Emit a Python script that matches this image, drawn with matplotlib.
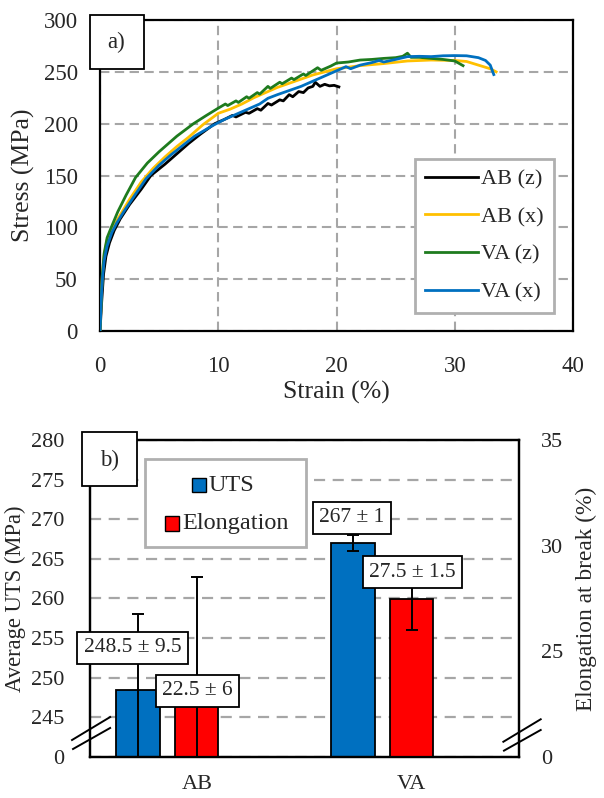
import matplotlib
matplotlib.use("Agg")
import matplotlib.pyplot as plt
from matplotlib.patches import Rectangle
from matplotlib.lines import Line2D
import numpy as np

plt.rcParams['font.family'] = ['Liberation Serif', 'DejaVu Serif']

TEXT = '#262626'
GRID = '#a6a6a6'

# ---------------- (a) stress-strain curves ----------------
ab_z_strain = [0, 0.15, 0.3, 0.5, 0.8, 1.2, 1.7, 2.5, 3.5, 4.3, 5.5, 6.5, 7.5, 8.5, 9.7,
               10.5, 11.2, 11.5, 12.3, 12.6, 13.3, 13.6, 14.2, 14.5, 15.2, 15.5, 16.0,
               16.3, 16.8, 17.2, 17.6, 18.0, 18.2, 18.6, 19.0, 19.4, 19.8, 20.2]
ab_z_stress = [0, 30, 55, 72, 85, 97, 108, 122, 137, 150, 161, 171, 181, 190, 200,
               204, 208, 206.5, 211, 210, 214.5, 213, 219.5, 218, 223, 222, 228,
               226, 231, 230, 234.5, 236, 240, 236, 238, 236.5, 237, 235.5]

ab_x_strain = [0, 0.1, 0.2, 0.35, 0.6, 1.0, 1.5, 2.5, 3.5, 4.5, 5.5, 6.5, 7.5, 8.7, 10,
               11, 12, 13, 14.2, 15, 16, 17, 18, 19, 20, 22, 24, 26, 28, 30, 31, 32, 33, 33.5]
ab_x_stress = [0, 32, 55, 73, 88, 98, 108, 127, 144, 157, 168, 178, 187, 199, 210,
               214, 219, 225, 231, 235, 239, 243, 247, 250, 253, 256, 258, 260.5, 261.4,
               261, 260, 256.5, 253, 250]

va_z_strain = [0, 0.1, 0.2, 0.35, 0.6, 0.95, 1.5, 2.2, 3.0, 4.0, 5.0, 6.5, 7.9, 9.0, 10.0,
               10.6, 10.8, 11.5, 11.7, 12.4, 12.6, 13.3, 13.5, 14.2, 14.4, 15.2, 15.4,
               16.2, 16.4, 17.2, 17.4, 18.4, 18.7, 19.5, 20.0, 21.0, 22.0, 23.0, 24.0,
               25.0, 25.6, 26.0, 26.3, 27.0, 28.0, 29.0, 30.0, 30.7]
va_z_stress = [0, 30, 55, 75, 90, 100, 115, 131, 148, 162, 173, 188, 200, 208, 215,
               219, 217.5, 222, 220.5, 226, 224.5, 230, 228.5, 236, 234, 240, 238.5,
               244, 242.5, 248, 246.5, 254, 251.5, 255.5, 258.5, 259.5, 261.4, 262, 263,
               263.7, 265, 268, 264, 264, 263, 262, 260.5, 256]

va_x_strain = [0, 0.1, 0.2, 0.35, 0.6, 1.0, 1.4, 2.0, 3.0, 3.9, 5.0, 6.0, 7.0, 8.0, 9.5,
               10.5, 11.5, 12.5, 13.5, 14.2, 15.0, 16.0, 17.0, 18.0, 19.0, 20.0, 20.8,
               21.2, 22.0, 23.0, 23.6, 24.0, 25.0, 26.0, 27.0, 28.0, 29.0, 30.0, 31.0,
               32.0, 32.6, 33.0, 33.3]
va_x_stress = [0, 30, 50, 68, 82, 95, 104, 115, 132, 147, 160, 170, 179, 188, 198,
               204, 209, 214, 219, 224.5, 228, 232, 236, 241, 246, 251, 255,
               253, 256.5, 259, 261, 259.5, 262, 264.7, 265, 264.7, 265.5, 265.7, 265.5,
               263.7, 261, 256.5, 247.4]

series_labels = ['AB (z)', 'AB (x)', 'VA (z)', 'VA (x)']
series_colors = ['#000000', '#ffc000', '#1e7b1e', '#0070c0']

strain_ticks = [0, 10, 20, 30, 40]
stress_ticks = [0, 50, 100, 150, 200, 250, 300]

# ---------------- (b) average properties ----------------
groups = ['AB', 'VA']
uts = [248.5, 267]
uts_err = [9.5, 1]
elong = [22.5, 27.5]
elong_err = [6, 1.5]

uts_ticks = [240, 245, 250, 255, 260, 265, 270, 275, 280]
uts_tick_labels = ['0', '245', '250', '255', '260', '265', '270', '275', '280']
elong_ticks = [20, 25, 30, 35]
elong_tick_labels = ['0', '25', '30', '35']

UTS_COLOR = '#0070c0'
ELONG_COLOR = '#ff0000'

fig = plt.figure(figsize=(6.04, 7.98), dpi=100)

# ---- panel a ----
ax = fig.add_axes([0.1656, 0.5852, 0.7831, 0.3897])
curves = [(ab_z_strain, ab_z_stress), (ab_x_strain, ab_x_stress),
          (va_z_strain, va_z_stress), (va_x_strain, va_x_stress)]
for (sx, sy), lab, col in zip(curves, series_labels, series_colors):
    ax.plot(sx, sy, color=col, lw=2.0, label=lab, solid_joinstyle='round', zorder=3)

ax.set_xlim(0, 40)
ax.set_ylim(0, 300)
ax.set_xticks(strain_ticks)
ax.set_yticks(stress_ticks)
ax.set_axisbelow(True)
ax.grid(True, color=GRID, lw=1.5, linestyle=(0, (4.5, 2.6)))
ax.tick_params(axis='both', length=0, labelsize=16.5, labelcolor=TEXT)
ax.tick_params(axis='x', pad=18)
ax.tick_params(axis='y', pad=16)
for sp in ax.spines.values():
    sp.set_linewidth(1.6)
    sp.set_color('black')
ax.set_xlabel('Strain (%)', fontsize=18.5, color=TEXT, labelpad=3)
ax.set_ylabel('Stress (MPa)', fontsize=18.5, color=TEXT, labelpad=6)

leg = ax.legend(loc='upper left', bbox_to_anchor=(0.665, 0.553), borderaxespad=0,
                fontsize=16, frameon=True, fancybox=False, framealpha=1,
                edgecolor='#b0b0b0', borderpad=0.45, handlelength=2.4,
                handletextpad=0.15, labelspacing=0.77)
leg.get_frame().set_linewidth(2.0)
for t in leg.get_texts():
    t.set_color(TEXT)

ax.add_patch(Rectangle((-0.022, 0.842), 0.114, 0.174, transform=ax.transAxes,
                       fc='white', ec='black', lw=1.3, clip_on=False, zorder=5))
ax.text(0.035, 0.929, 'a)', transform=ax.transAxes, ha='center', va='center',
        fontsize=16.5, color=TEXT, zorder=6)

# ---- panel b ----
bx = fig.add_axes([0.1482, 0.0514, 0.7111, 0.3972])
bx2 = bx.twinx()
x = np.arange(len(groups))

bx.bar(x - 0.275, uts, 0.205, color=UTS_COLOR, edgecolor='black', lw=1.3, zorder=2)
bx.errorbar(x - 0.275, uts, yerr=uts_err, fmt='none', ecolor='black',
            elinewidth=1.4, capsize=4.5, capthick=1.4, zorder=3)
bx2.bar(x, elong, 0.2, color=ELONG_COLOR, edgecolor='black', lw=1.3, zorder=2)
bx2.errorbar(x, elong, yerr=elong_err, fmt='none', ecolor='black',
             elinewidth=1.4, capsize=4.5, capthick=1.4, zorder=3)

bx.set_xlim(-0.5, 1.5)
bx.set_ylim(uts_ticks[0], uts_ticks[-1])
bx2.set_ylim(elong_ticks[0], elong_ticks[-1])
bx.set_xticks(x, labels=groups)
bx.set_yticks(uts_ticks, labels=uts_tick_labels)
bx2.set_yticks(elong_ticks, labels=elong_tick_labels)
bx.set_axisbelow(True)
bx.yaxis.grid(True, color=GRID, lw=1.6, linestyle=(0, (5, 3.4)))
bx.tick_params(axis='both', length=0, labelsize=16, labelcolor=TEXT)
bx.tick_params(axis='x', pad=13)
bx.tick_params(axis='y', pad=18)
bx2.tick_params(axis='y', length=0, labelsize=16, labelcolor=TEXT, pad=16)
for a in (bx, bx2):
    for sp in a.spines.values():
        sp.set_linewidth(1.6)
        sp.set_color('black')
bx.set_ylabel('Average UTS (MPa)', fontsize=16.3, color=TEXT, labelpad=4)
bx2.set_ylabel('Elongation at break (%)', fontsize=16.8, color=TEXT, labelpad=9)

# value boxes
box_style = dict(boxstyle='square,pad=0.3', fc='white', ec='black', lw=1.3)
uts_label_pos = [(-0.30, 253.8), (0.722, 270.2)]
elong_label_pos = [(0.003, 248.35), (1.005, 263.3)]
for (lx, ly), v, e in zip(uts_label_pos, uts, uts_err):
    bx2.text(lx, ly, f'{v:g} ± {e:g}', transform=bx.transData, ha='center',
             va='center', fontsize=15.5, color=TEXT, bbox=box_style, zorder=6)
for (lx, ly), v, e in zip(elong_label_pos, elong, elong_err):
    bx2.text(lx, ly, f'{v:g} ± {e:g}', transform=bx.transData, ha='center',
             va='center', fontsize=15.5, color=TEXT, bbox=box_style, zorder=6)

# legend
bx2.add_patch(Rectangle((0.129, 0.662), 0.375, 0.278, transform=bx2.transAxes,
                        fc='white', ec='#b0b0b0', lw=2.0, zorder=4))
sw, sh = 0.0326, 0.047
bx2.add_patch(Rectangle((0.255 - sw / 2, 0.858 - sh / 2), sw, sh, transform=bx2.transAxes,
                        fc=UTS_COLOR, ec='black', lw=1.0, zorder=5))
bx2.text(0.276, 0.858, 'UTS', transform=bx2.transAxes, ha='left', va='center',
         fontsize=17.5, color=TEXT, zorder=5)
bx2.add_patch(Rectangle((0.191 - sw / 2, 0.738 - sh / 2), sw, sh, transform=bx2.transAxes,
                        fc=ELONG_COLOR, ec='black', lw=1.0, zorder=5))
bx2.text(0.215, 0.738, 'Elongation', transform=bx2.transAxes, ha='left', va='center',
         fontsize=17.5, color=TEXT, zorder=5)

# panel tag
bx2.add_patch(Rectangle((-0.0175, 0.855), 0.1285, 0.171, transform=bx2.transAxes,
                        fc='white', ec='black', lw=1.3, clip_on=False, zorder=5))
bx2.text(0.047, 0.937, 'b)', transform=bx2.transAxes, ha='center', va='center',
         fontsize=16.5, color=TEXT, zorder=6)

# axis break marks
for (x0, y0, x1, y1) in [(-0.0407, 0.0536, 0.048, 0.126), (-0.0384, 0.0252, 0.048, 0.0915),
                         (0.9635, 0.048, 1.0505, 0.119), (0.965, 0.020, 1.0505, 0.0852)]:
    bx2.add_line(Line2D([x0, x1], [y0, y1], transform=bx2.transAxes, color='black',
                        lw=1.4, clip_on=False, zorder=6))

fig.savefig('out.png', dpi=100)
